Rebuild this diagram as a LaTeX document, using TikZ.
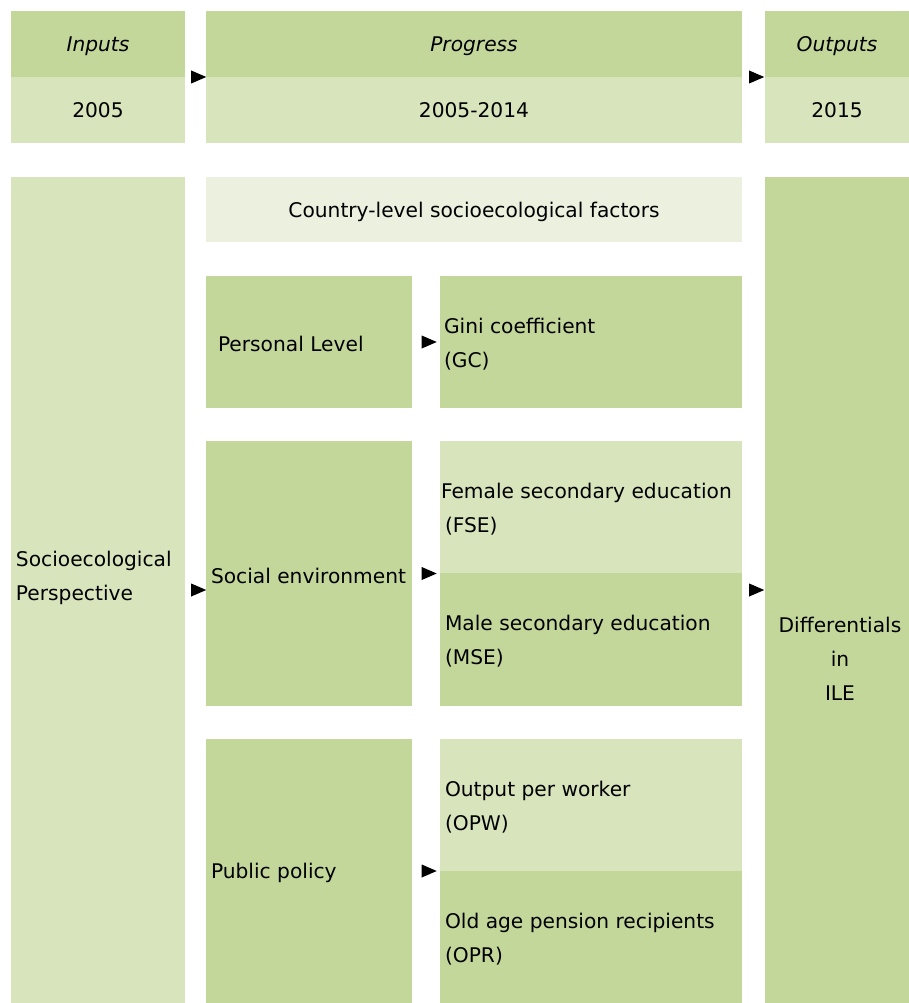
\documentclass[tikz,border=0pt]{standalone}
\usepackage{fontspec}
\setmainfont{DejaVu Sans}
\usetikzlibrary{shapes.geometric}

\definecolor{gdark}{HTML}{C4D79B}
\definecolor{glight}{HTML}{D8E4BC}
\definecolor{gpale}{HTML}{EBF1DE}

\begin{document}
\begin{tikzpicture}[x=1pt,y=-1pt,
  every node/.style={font=\fontsize{20.2}{34}\selectfont,inner sep=0pt,outer sep=0pt},
  cell/.style n args={3}{anchor=north west,fill=#1,minimum width=#2,minimum height=#3,text depth=0pt},
  txt/.style={anchor=west,align=left},
  tri/.style={isosceles triangle,isosceles triangle stretches,fill=black,minimum width=13pt,minimum height=15pt}]
  \useasboundingbox (0,0) rectangle (909,1003);
  % time line
  \node[cell={gdark}{174pt}{66pt}] (inputs) at (11,11) {\itshape Inputs};
  \node[cell={glight}{174pt}{66pt}] (inyear) at (11,77) {2005};
  \node[cell={gdark}{536pt}{66pt}] (progress) at (206,11) {\itshape Progress};
  \node[cell={glight}{536pt}{66pt}] (progyear) at (206,77) {2005-2014};
  \node[cell={gdark}{144pt}{66pt}] (outputs) at (765,11) {\itshape Outputs};
  \node[cell={glight}{144pt}{66pt}] (outyear) at (765,77) {2015};
  \path (inputs.south east) -- node[tri] (a1) {} (progress.south west);
  \path (progress.south east) -- node[tri] (a2) {} (outputs.south west);
  % perspective and outcome
  \node[cell={glight}{174pt}{826pt}] (persp) at (11,177) {};
  \node[txt] (persptext) at (16,578) {Socioecological\\Perspective};
  \node[cell={gdark}{144pt}{826pt}] (diff) at (765,177) {};
  \node[align=center] (difftext) at (840,659) {Differentials\\in\\ILE};
  % factors
  \node[cell={gpale}{536pt}{65pt}] (country) at (206,177) {Country-level socioecological factors};
  \node[cell={gdark}{206pt}{132pt}] (personal) at (206,276) {};
  \node[txt] (personaltext) at ([xshift=12pt,yshift=-2pt]personal.west) {Personal Level};
  \node[cell={gdark}{302pt}{132pt}] (gini) at (440,276) {};
  \node[txt] (ginitext) at ([xshift=4pt,yshift=-2pt]gini.west) {Gini coefficient\\(GC)};
  \node[cell={gdark}{206pt}{265pt}] (social) at (206,441) {};
  \node[txt] (socialtext) at ([xshift=5pt,yshift=-2pt]social.west) {Social environment};
  \node[cell={glight}{302pt}{132pt}] (fse) at (440,441) {};
  \node[txt] (fsetext) at ([xshift=1pt,yshift=-2pt]fse.west) {Female secondary education\\\hspace*{4pt}(FSE)};
  \node[cell={gdark}{302pt}{133pt}] (mse) at (440,573) {};
  \node[txt] (msetext) at ([xshift=5pt,yshift=-2pt]mse.west) {Male secondary education\\(MSE)};
  \node[cell={gdark}{206pt}{264pt}] (policy) at (206,739) {};
  \node[txt] (policytext) at ([xshift=5pt,yshift=-2pt]policy.west) {Public policy};
  \node[cell={glight}{302pt}{132pt}] (opw) at (440,739) {};
  \node[txt] (opwtext) at ([xshift=5pt,yshift=-2pt]opw.west) {Output per worker\\(OPW)};
  \node[cell={gdark}{302pt}{132pt}] (opr) at (440,871) {};
  \node[txt] (oprtext) at ([xshift=5pt,yshift=-2pt]opr.west) {Old age pension recipients\\(OPR)};
  % arrows
  \path (persp.east) -- node[tri] (a3) {} (persp.east -| social.west);
  \path (personal.east) -- node[tri] (a4) {} (gini.west);
  \path (social.east) -- node[tri] (a5) {} (social.east -| fse.west);
  \path (policy.east) -- node[tri] (a6) {} (policy.east -| opw.west);
  \path (diff.west -| mse.east) -- node[tri] (a7) {} (diff.west);
\end{tikzpicture}
\end{document}
